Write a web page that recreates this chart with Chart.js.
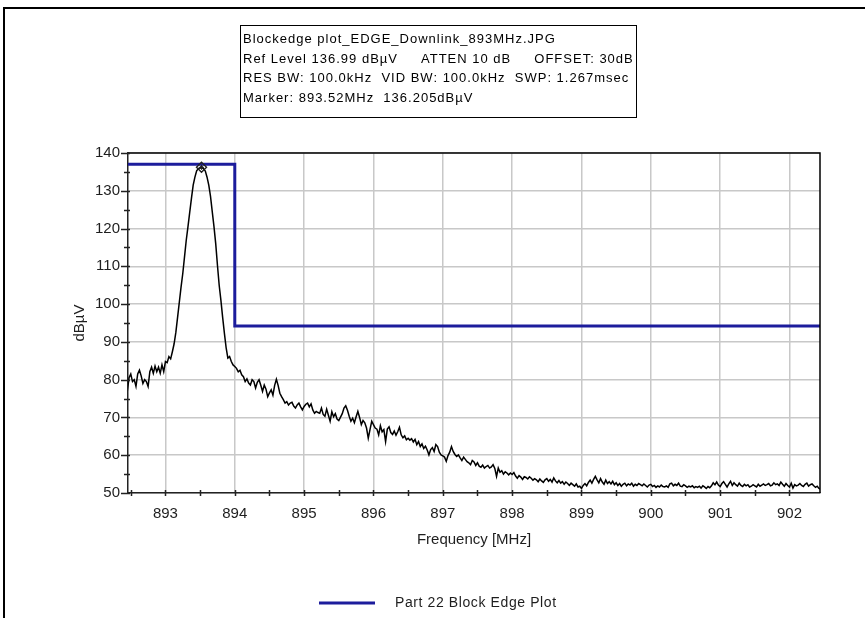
<!DOCTYPE html>
<html>
<head>
<meta charset="utf-8">
<script src="https://cdn.jsdelivr.net/npm/chart.js@4.4.1/dist/chart.umd.min.js"></script>
<style>
  html, body { margin: 0; padding: 0; background: #fff; }
  #wrap { width: 865px; height: 618px; position: relative; }
</style>
</head>
<body>
<div id="wrap"><canvas id="c" width="865" height="618"></canvas></div>
<script>
// ---- Sweep settings (trace points are evenly spaced in frequency) ----
const SWEEP_START = 892.45;   // MHz
const SWEEP_STEP = 0.025;     // MHz between trace points

// ---- Measured trace, dBµV, split by region of the sweep ----
const traceLowSide = [
  77.0, 80.5, 81.5, 79.5, 80.0, 78.2, 81.5, 82.5, 81.0, 79.0,
  80.0, 79.5, 78.2, 82.1, 83.3, 81.7, 83.6, 82.1, 83.3, 81.7,
  83.9, 82.1, 84.8, 84.5, 86.1, 85.5, 87.4, 89.5, 92.5, 96.5
];
const tracePeak = [
  100.5, 104.5, 108.1, 112.5, 116.9, 120.5, 124.3, 128.0, 131.5, 133.6,
  135.3, 135.9, 136.1, 136.2, 135.8, 135.2, 133.6, 131.5, 128.5, 124.5,
  120.5, 116.0, 110.3, 105.0, 101.0, 96.5, 92.3, 88.5, 85.7, 86.1
];
const traceSkirt = [
  84.8, 83.9, 83.5, 83.0, 82.1, 82.5, 81.3, 80.8, 79.5, 80.2,
  79.1, 78.6, 80.0, 79.5, 77.8, 79.3, 80.0, 78.5, 76.9, 78.6,
  77.5, 75.5, 76.5, 77.3, 75.9, 78.5, 80.1, 78.5, 76.4, 75.5,
  74.7, 73.8, 74.2, 73.3, 73.8, 74.0, 73.0, 72.5, 73.3, 73.8,
  72.8, 72.0, 72.9, 73.5, 73.8, 72.8, 73.6, 72.0, 71.1, 71.6,
  71.3, 71.1, 72.5, 70.8, 70.3, 72.2, 70.6, 69.0, 71.5, 70.2,
  71.0, 69.6, 69.2, 70.1, 71.0, 72.5, 73.1, 71.9, 70.3, 69.0,
  69.8, 68.6, 70.2, 71.6, 70.0, 68.1, 69.2, 68.6, 67.2, 64.5,
  66.8, 69.0, 68.1, 67.2, 66.9, 65.4, 67.8, 66.2, 66.8, 63.6
];
const traceSlope = [
  66.9, 67.5, 66.0, 65.5, 66.4, 65.3, 66.2, 67.4, 65.4, 64.6,
  65.1, 64.1, 64.5, 64.0, 64.4, 63.5, 64.2, 62.8, 63.6, 62.3,
  63.0, 61.8, 62.4, 61.4, 60.1, 61.5, 62.0, 61.0, 62.8, 62.3,
  60.8, 60.1, 59.8, 59.5, 58.4, 59.9, 60.8, 62.3, 61.0, 60.2,
  59.7, 60.1, 59.3, 58.6, 59.5, 58.9, 58.3, 58.0, 57.5, 58.6,
  58.2, 57.3, 58.0, 57.1, 56.8, 57.4, 56.6, 57.0, 57.3, 56.6,
  56.9, 57.5, 56.5, 54.4, 56.6, 55.5, 55.9, 55.0, 55.6, 55.3,
  54.8, 55.3, 54.9, 55.4, 54.5, 53.9, 54.6, 54.2, 53.6, 54.3,
  54.1, 53.7, 54.3, 53.9, 53.4, 53.8, 53.5, 53.0, 53.7, 53.2,
  52.8, 53.5, 53.8, 53.1, 53.6, 52.9, 54.0, 53.2, 52.7, 53.3,
  52.6, 53.0, 52.3, 52.9, 52.5, 52.0, 52.6, 52.2, 51.8, 52.4,
  51.6, 51.8
];
const traceFloor = [
  51.2, 52.0, 52.5, 51.9, 52.8, 53.4, 52.6, 53.6, 54.4, 53.5,
  52.7, 53.8, 52.9, 52.3, 53.4, 52.5, 53.0, 52.4, 53.1, 52.2,
  52.7, 52.0, 52.5, 51.8, 52.3, 52.6, 51.9, 52.4, 52.1, 52.6,
  51.8, 52.3, 52.0, 52.5, 52.2, 51.9, 52.4, 52.0, 51.6, 52.1,
  52.3, 51.7, 52.0, 51.5, 51.9, 51.6, 52.1, 51.7, 51.6, 51.9,
  51.5, 52.4, 52.6, 51.9, 52.3, 52.0, 52.6, 51.8, 51.7, 52.2,
  51.9, 51.5, 51.8, 51.6, 51.9, 51.4, 51.7, 51.5, 51.8, 51.3,
  51.9, 51.6, 51.2, 51.7, 51.4, 51.9, 52.7, 52.2, 52.9, 52.1,
  51.7, 52.5, 53.0, 52.3, 51.6, 52.4, 53.1, 52.0, 52.7, 52.2,
  51.8, 52.6, 52.0, 51.7, 52.3, 51.9, 52.2, 51.6, 51.8, 52.2,
  51.9, 51.6, 52.3, 51.8, 52.1, 52.4, 52.0, 52.2, 52.5, 51.9,
  52.1, 52.7, 52.2, 52.4, 52.0, 52.9, 52.3, 51.8, 52.5, 52.0,
  51.6, 52.6, 51.3, 52.2, 51.9, 52.1, 52.5, 52.0, 51.7, 52.3,
  52.6, 51.8, 52.2, 52.4, 51.9, 51.5, 51.8, 51.2, 51.0
];

// ---- Part 22 block edge limit ----
const LIMIT_LABEL = 'Part 22 Block Edge Plot';
const limitFreq  = [892.45, 894.0, 894.0, 902.45];
const limitLevel = [136.99, 136.99, 94.2, 94.2];

// ---- Peak marker ----
const markerFreq = 893.52;
const markerLevel = 136.205;

// ---- Axes ----
const xRange = [892.46, 902.44];
const yRange = [50, 140];
const xMajorTicks = [893, 894, 895, 896, 897, 898, 899, 900, 901, 902];
const xMinorTicks = [892.5, 893.5, 894.5, 895.5, 896.5, 897.5, 898.5, 899.5, 900.5, 901.5];
const yMajorTicks = [50, 60, 70, 80, 90, 100, 110, 120, 130, 140];
const yMinorTicks = [55, 65, 75, 85, 95, 105, 115, 125, 135];

// ---- Header lines ----
const infoLines = [
  'Blockedge plot_EDGE_Downlink_893MHz.JPG',
  'Ref Level 136.99 dBµV     ATTEN 10 dB     OFFSET: 30dB',
  'RES BW: 100.0kHz  VID BW: 100.0kHz  SWP: 1.267msec',
  'Marker: ' + markerFreq + 'MHz  ' + markerLevel + 'dBµV'
];

const FONT = '"Liberation Sans", Arial, sans-serif';
const INK = '#1e1e1e';
const LIMIT_BLUE = '#1c1c9c';

const traceLevels = [].concat(traceLowSide, tracePeak, traceSkirt, traceSlope, traceFloor);
const tracePoints = traceLevels.map((v, i) => ({ x: +(SWEEP_START + i * SWEEP_STEP).toFixed(3), y: v }));
const limitPoints = limitFreq.map((f, i) => ({ x: f, y: limitLevel[i] }));

function setSpacing(ctx, px) {
  if ('letterSpacing' in ctx) ctx.letterSpacing = px + 'px';
}

// Frame, header box, crossing ticks, plot border and legend
const decorations = {
  id: 'decorations',
  afterDraw(chart) {
    const ctx = chart.ctx;
    const area = chart.chartArea;
    const xs = chart.scales.x, ys = chart.scales.y;
    ctx.save();

    // outer frame (top and left edges)
    ctx.strokeStyle = '#000';
    ctx.lineWidth = 2;
    ctx.beginPath();
    ctx.moveTo(4, 618); ctx.lineTo(4, 8); ctx.lineTo(865, 8);
    ctx.stroke();

    // header box
    const bx = 240, by = 25, bw = 396, bh = 92;
    ctx.fillStyle = '#fff';
    ctx.fillRect(bx, by, bw, bh);
    ctx.strokeStyle = '#000';
    ctx.lineWidth = 1;
    ctx.strokeRect(bx + 0.5, by + 0.5, bw, bh);
    ctx.fillStyle = '#000';
    ctx.font = '13px ' + FONT;
    ctx.textBaseline = 'alphabetic';
    ctx.textAlign = 'left';
    setSpacing(ctx, 1);
    infoLines.forEach((t, i) => ctx.fillText(t, bx + 3, by + 18 + i * 19.7));
    setSpacing(ctx, 0);

    // plot border on top and right
    ctx.strokeStyle = '#000';
    ctx.lineWidth = 1.5;
    ctx.beginPath();
    ctx.moveTo(area.left, area.top); ctx.lineTo(area.right, area.top); ctx.lineTo(area.right, area.bottom);
    ctx.stroke();

    // ticks crossing the axes
    ctx.strokeStyle = '#222';
    ctx.lineWidth = 1.5;
    ctx.beginPath();
    xMajorTicks.concat(xMinorTicks).forEach(v => {
      const px = Math.round(xs.getPixelForValue(v)) + 0.5;
      ctx.moveTo(px, area.bottom - 3); ctx.lineTo(px, area.bottom + 3);
    });
    yMajorTicks.forEach(v => {
      const py = Math.round(ys.getPixelForValue(v)) + 0.5;
      ctx.moveTo(area.left - 7, py); ctx.lineTo(area.left + 2, py);
    });
    yMinorTicks.forEach(v => {
      const py = Math.round(ys.getPixelForValue(v)) + 0.5;
      ctx.moveTo(area.left - 4, py); ctx.lineTo(area.left + 2, py);
    });
    ctx.stroke();

    // legend (limit line only)
    const limitSet = chart.data.datasets.find(d => d.label === LIMIT_LABEL);
    const ly = 603;
    ctx.strokeStyle = limitSet.borderColor;
    ctx.lineWidth = 3;
    ctx.beginPath();
    ctx.moveTo(319, ly); ctx.lineTo(375, ly);
    ctx.stroke();
    ctx.fillStyle = INK;
    ctx.font = '14px ' + FONT;
    ctx.textBaseline = 'middle';
    setSpacing(ctx, 0.6);
    ctx.fillText(limitSet.label, 395, ly);
    setSpacing(ctx, 0);

    ctx.restore();
  }
};

new Chart(document.getElementById('c'), {
  type: 'scatter',
  data: {
    datasets: [
      {
        label: 'Marker',
        data: [{ x: markerFreq, y: markerLevel }],
        showLine: false,
        pointStyle: 'rectRot',
        pointRadius: 5,
        borderColor: '#222',
        backgroundColor: 'rgba(255,255,255,0)',
        borderWidth: 1.4,
        order: 0
      },
      {
        label: 'Marker centre',
        data: [{ x: markerFreq, y: markerLevel }],
        showLine: false,
        pointStyle: 'star',
        pointRadius: 2.5,
        borderColor: '#222',
        borderWidth: 1,
        order: 0
      },
      {
        label: LIMIT_LABEL,
        data: limitPoints,
        showLine: true,
        borderColor: LIMIT_BLUE,
        backgroundColor: LIMIT_BLUE,
        borderWidth: 3,
        pointRadius: 0,
        tension: 0,
        order: 1
      },
      {
        label: 'Trace',
        data: tracePoints,
        showLine: true,
        borderColor: '#000',
        borderWidth: 1.5,
        pointRadius: 0,
        tension: 0,
        order: 2
      }
    ]
  },
  options: {
    responsive: false,
    animation: false,
    devicePixelRatio: 1,
    layout: { padding: { left: 0, right: 45, top: 153, bottom: 0 } },
    plugins: {
      legend: { display: false },
      tooltip: { enabled: false }
    },
    scales: {
      x: {
        type: 'linear',
        min: xRange[0],
        max: xRange[1],
        afterBuildTicks: s => { s.ticks = xMajorTicks.map(v => ({ value: v })); },
        afterFit: s => { s.height = 125; },
        grid: { color: '#c8c8c8', lineWidth: 1.5, drawTicks: false },
        border: { color: '#222', width: 1.5 },
        ticks: { font: { family: FONT, size: 15 }, color: INK, padding: 12, maxRotation: 0, autoSkip: false,
                 callback: v => String(v) },
        title: { display: true, text: 'Frequency [MHz]', font: { family: FONT, size: 15 }, color: INK,
                 padding: { top: 0, bottom: 69 } }
      },
      y: {
        type: 'linear',
        min: yRange[0],
        max: yRange[1],
        afterBuildTicks: s => { s.ticks = yMajorTicks.map(v => ({ value: v })); },
        afterFit: s => { s.width = 128; },
        grid: { color: '#c8c8c8', lineWidth: 1.5, drawTicks: false },
        border: { color: '#222', width: 1.5 },
        ticks: { font: { family: FONT, size: 15 }, color: INK, padding: 8, autoSkip: false,
                 callback: v => String(v) },
        title: { display: true, text: 'dBµV', font: { family: FONT, size: 15 }, color: INK,
                 padding: { top: 71, bottom: 0 } }
      }
    }
  },
  plugins: [decorations]
});
</script>
</body>
</html>
